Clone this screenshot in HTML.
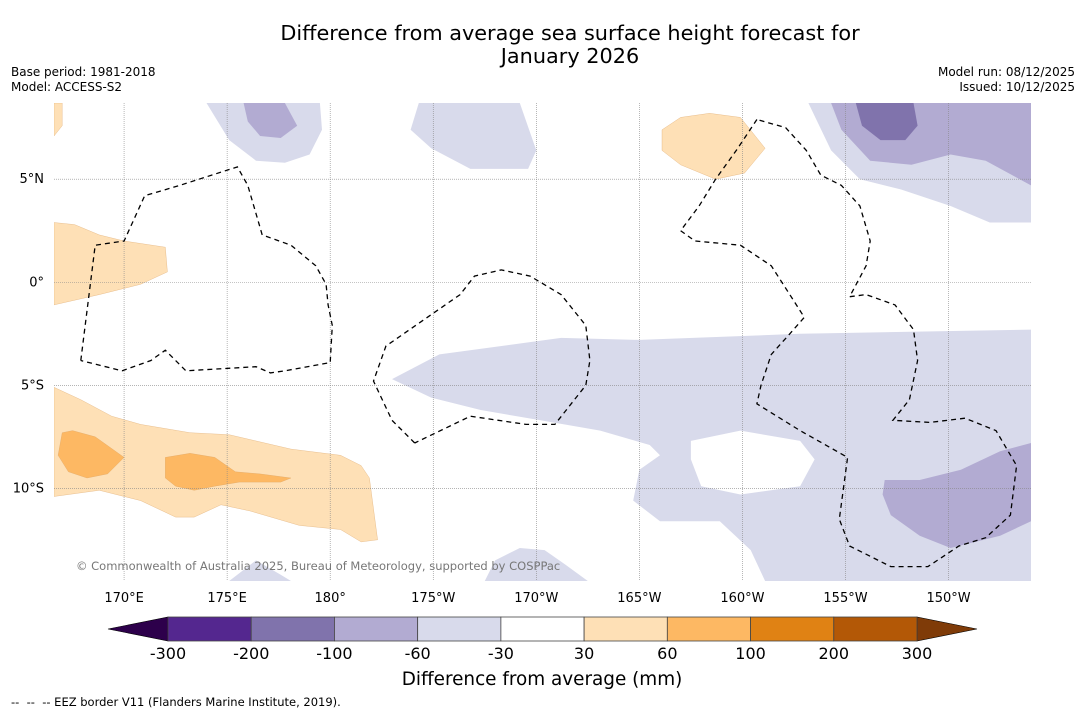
<!DOCTYPE html>
<html><head><meta charset="utf-8">
<style>
body{margin:0;background:#fff;font-family:"DejaVu Sans","Liberation Sans",sans-serif;}
#root{position:relative;width:1085px;height:713px;overflow:hidden;background:#fff;}
.t{position:absolute;white-space:nowrap;color:#000;}
</style></head>
<body>
<div id="root">
<div class="t" style="left:0;width:1140px;top:22px;font-size:20.8px;text-align:center;line-height:23px;">Difference from average sea surface height forecast for<br>January 2026</div>
<div class="t" style="left:11px;top:65px;font-size:12px;line-height:15px;">Base period: 1981-2018<br>Model: ACCESS-S2</div>
<div class="t" style="right:10px;top:65px;font-size:12px;line-height:15px;text-align:right;">Model run: 08/12/2025<br>Issued: 10/12/2025</div>
<div class="t" style="left:11px;top:695px;font-size:11.5px;">--&nbsp; --&nbsp; -- EEZ border V11 (Flanders Marine Institute, 2019).</div>
<svg id="svg" width="1085" height="713" style="position:absolute;left:0;top:0"></svg>
</div>
<script>
const lonMin=166.6, lonMax=214.0, latMax=8.7, latMin=-14.5;
const mapL=54, mapR=1031, mapT=103, mapB=581;
const lonTicks=[170,175,180,185,190,195,200,205,210];
const lonLabels=["170°E","175°E","180°","175°W","170°W","165°W","160°W","155°W","150°W"];
const latTicks=[5,0,-5,-10];
const latLabels=["5°N","0°","5°S","10°S"];
const levels=[-300,-200,-100,-60,-30,30,60,100,200,300];
const levelColors=["#54278f","#8073ac","#b2abd2","#d8daeb","#ffffff","#fee0b6","#fdb863","#e08214","#b35806"];
const extLow="#2d004b", extHigh="#7f3b08";
const C_LP="#d8daeb", C_MP="#b2abd2", C_DP="#8073ac", C_LO="#fee0b6", C_MO="#fdb863";

const lpBand=[[183.0,-4.7],[185.3,-3.5],[191.2,-2.7],[195.0,-2.8],[202.8,-2.5],[214.0,-2.3],[214.0,-14.5],[201.1,-14.5],[200.4,-13.0],[198.9,-11.6],[196.0,-11.6],[194.7,-10.6],[195.0,-9.1],[196.0,-8.4],[195.5,-7.9],[193.1,-7.2],[190.2,-6.7],[187.3,-6.2],[184.9,-5.6]];
const whiteHole=[[197.5,-7.7],[199.9,-7.2],[202.8,-7.7],[203.5,-8.6],[202.8,-9.9],[199.9,-10.3],[198.0,-9.9],[197.5,-8.6]];
const mpBR=[[206.9,-9.6],[208.6,-9.6],[210.6,-9.1],[212.5,-8.2],[214.0,-7.8],[214.0,-11.6],[212.5,-12.3],[210.1,-12.9],[208.6,-12.3],[207.2,-11.3],[206.8,-10.3]];
const lpTR=[[203.2,8.7],[214.0,8.7],[214.0,2.9],[212.0,2.9],[210.1,3.7],[207.7,4.5],[205.7,5.0],[204.3,6.4]];
const mpTR=[[204.3,8.7],[214.0,8.7],[214.0,4.7],[211.8,5.9],[210.1,6.2],[208.2,5.7],[206.2,5.9],[204.8,7.4]];
const dpTR=[[205.5,8.7],[208.3,8.7],[208.5,7.6],[207.9,6.9],[206.7,6.9],[205.8,7.6]];
const lpTL=[[174.0,8.7],[179.5,8.7],[179.6,7.4],[179.0,6.2],[177.8,5.8],[176.4,5.9],[175.1,6.9]];
const mpTL=[[175.8,8.7],[177.8,8.7],[178.4,7.6],[177.6,7.0],[176.6,7.1],[176.0,7.8]];
const lpTM=[[184.3,8.7],[189.2,8.7],[190.0,6.4],[189.6,5.5],[186.8,5.5],[184.9,6.5],[183.9,7.4]];
const lpBM=[[187.5,-14.5],[188.0,-13.5],[189.2,-12.9],[190.4,-13.0],[191.4,-13.7],[192.5,-14.5]];
const lpBL=[[175.1,-14.5],[176.4,-13.5],[177.6,-14.2],[178.1,-14.5]];
const loTLc=[[166.6,8.7],[167.0,8.7],[167.0,7.6],[166.6,7.1]];
const loTR=[[196.1,7.4],[197.0,8.0],[198.4,8.2],[199.9,8.0],[201.1,6.5],[200.1,5.3],[198.7,5.0],[197.0,5.7],[196.1,6.4]];
const loL=[[166.6,2.9],[167.6,2.8],[168.8,2.3],[170.0,2.0],[172.0,1.7],[172.1,0.5],[170.8,-0.1],[168.8,-0.6],[166.6,-1.1]];
const loBL=[[166.6,-5.1],[167.9,-5.7],[169.4,-6.5],[170.8,-6.9],[173.2,-7.3],[175.1,-7.4],[178.1,-8.1],[180.5,-8.4],[181.5,-8.9],[181.9,-9.5],[182.3,-12.5],[181.5,-12.6],[180.5,-12.0],[178.5,-11.8],[176.1,-11.1],[174.7,-10.8],[173.4,-11.4],[172.5,-11.4],[170.8,-10.6],[168.8,-10.1],[166.6,-10.4]];
const moBL1=[[167.0,-7.3],[167.5,-7.2],[168.6,-7.5],[170.0,-8.5],[169.2,-9.3],[168.2,-9.5],[167.3,-9.2],[166.8,-8.4]];
const moBL2=[[172.0,-8.5],[173.2,-8.3],[174.4,-8.5],[175.4,-9.2],[176.6,-9.3],[178.1,-9.5],[177.6,-9.7],[175.6,-9.7],[174.4,-9.9],[173.4,-10.1],[172.5,-9.9],[172.0,-9.5]];
const eezA=[[167.9,-3.8],[168.6,1.8],[170.0,2.0],[171.0,4.2],[172.7,4.7],[175.5,5.6],[176.0,4.7],[176.7,2.3],[178.1,1.8],[179.3,0.8],[179.8,-0.1],[179.9,-1.1],[180.1,-2.1],[180.0,-3.9],[177.8,-4.3],[177.1,-4.4],[176.4,-4.1],[173.0,-4.3],[172.0,-3.3],[171.3,-3.8],[169.9,-4.3],[167.9,-3.8]];
const eezB=[[184.1,-7.8],[183.0,-6.7],[182.1,-4.8],[182.7,-3.1],[186.3,-0.6],[187.0,0.3],[188.3,0.6],[189.7,0.3],[191.2,-0.6],[192.4,-2.1],[192.6,-3.8],[192.4,-5.0],[190.9,-6.9],[189.5,-6.9],[186.8,-6.5],[184.1,-7.8]];
const eezC=[[200.7,7.9],[199.7,6.4],[198.7,5.0],[197.9,3.7],[197.0,2.5],[197.7,2.0],[199.9,1.8],[201.4,0.8],[202.3,-0.6],[203.0,-1.7],[202.3,-2.5],[201.4,-3.5],[200.9,-5.0],[200.7,-5.9],[202.8,-7.2],[205.1,-8.5],[204.7,-11.5],[205.2,-12.8],[207.2,-13.8],[209.0,-13.8],[210.5,-12.8],[211.8,-12.4],[213.0,-11.3],[213.3,-8.9],[212.3,-7.2],[210.8,-6.6],[209.1,-6.8],[207.3,-6.7],[208.1,-5.7],[208.5,-3.8],[208.3,-2.3],[207.4,-1.1],[206.0,-0.6],[205.2,-0.7],[206.0,0.8],[206.2,2.0],[205.7,3.7],[204.8,4.7],[203.8,5.2],[203.1,6.4],[202.1,7.5],[200.7,7.9]];

const FONT='DejaVu Sans, Liberation Sans, sans-serif';
const NS="http://www.w3.org/2000/svg";
const svg=document.getElementById('svg');
function X(lon){return mapL+(lon-lonMin)/(lonMax-lonMin)*(mapR-mapL);}
function Y(lat){return mapT+(latMax-lat)/(latMax-latMin)*(mapB-mapT);}
function mk(tag,attrs,parent){const e=document.createElementNS(NS,tag);for(const k in attrs)e.setAttribute(k,attrs[k]);(parent||svg).appendChild(e);return e;}
function pts(a){return a.map(p=>X(p[0]).toFixed(1)+','+Y(p[1]).toFixed(1)).join(' ');}

const defs=mk('defs',{});
const cp=mk('clipPath',{id:'mapclip'},defs);
mk('rect',{x:mapL,y:mapT,width:mapR-mapL,height:mapB-mapT},cp);
const g=mk('g',{'clip-path':'url(#mapclip)'});



const fills=[[lpBand,C_LP,'light-purple-band'],[whiteHole,'#ffffff','neutral-patch'],[mpBR,C_MP,'purple-patch-southeast'],
[lpTR,C_LP,'light-purple-northeast'],[mpTR,C_MP,'purple-northeast'],[dpTR,C_DP,'dark-purple-northeast'],
[lpTL,C_LP,'light-purple-northwest'],[mpTL,C_MP,'purple-northwest'],[lpTM,C_LP,'light-purple-north'],
[lpBM,C_LP,'light-purple-south'],[lpBL,C_LP,'light-purple-southwest'],
[loTLc,C_LO,'orange-corner'],[loTR,C_LO,'orange-north'],[loL,C_LO,'orange-west'],[loBL,C_LO,'orange-southwest'],
[moBL1,C_MO,'orange-core-1'],[moBL2,C_MO,'orange-core-2']];
fills.forEach(f=>{
  const p=mk('polygon',{points:pts(f[0]),fill:f[1],stroke:f[1]==C_LO||f[1]==C_MO?'#d9a060':'none','stroke-width':0.3},g);
  
  
});
lonTicks.forEach((lon,i)=>{
  const l=mk('line',{x1:X(lon),x2:X(lon),y1:mapT,y2:mapB,stroke:'#888','stroke-width':0.6,'stroke-dasharray':'1,1'},g);
  
  
  const t=mk('text',{x:X(lon),y:602,'font-size':13,'text-anchor':'middle','font-family':FONT});
  t.textContent=lonLabels[i];
  
  
});
latTicks.forEach((lat,i)=>{
  const l=mk('line',{x1:mapL,x2:mapR,y1:Y(lat),y2:Y(lat),stroke:'#888','stroke-width':0.6,'stroke-dasharray':'1,1'},g);
  
  
  const t=mk('text',{x:44,y:Y(lat)+4,'font-size':13,'text-anchor':'end','font-family':FONT});
  t.textContent=latLabels[i];
  
  
});
[eezA,eezB,eezC].forEach(a=>{
  const p=mk('polyline',{points:pts(a),fill:'none',stroke:'#000','stroke-width':1.3,'stroke-dasharray':'5,4'},g);
  
  
});
const cr=mk('text',{x:76,y:570,'font-size':11.5,fill:'#777','font-family':FONT},g);
cr.textContent='© Commonwealth of Australia 2025, Bureau of Meteorology, supported by COSPPac';



const cbL=168, cbR=917, cbT=617, cbB=641, n=levelColors.length, w=(cbR-cbL)/n;
const lt=mk('polygon',{points:`${cbL},${cbT} ${cbL},${cbB} 108,${(cbT+cbB)/2}`,fill:extLow,stroke:'#000','stroke-width':0.6});


const rt=mk('polygon',{points:`${cbR},${cbT} ${cbR},${cbB} 977,${(cbT+cbB)/2}`,fill:extHigh,stroke:'#000','stroke-width':0.6});


levelColors.forEach((c,i)=>{
  const r=mk('rect',{x:cbL+i*w,y:cbT,width:w,height:cbB-cbT,fill:c,stroke:'#444','stroke-width':0.8});
  
  
});
levels.forEach((v,i)=>{
  const t=mk('text',{x:cbL+i*w,y:659,'font-size':16,'text-anchor':'middle','font-family':FONT});
  t.textContent=v;
  
  
});
const ct=mk('text',{x:542,y:685,'font-size':18.4,'text-anchor':'middle','font-family':FONT});
ct.textContent='Difference from average (mm)';


</script>
</body></html>
